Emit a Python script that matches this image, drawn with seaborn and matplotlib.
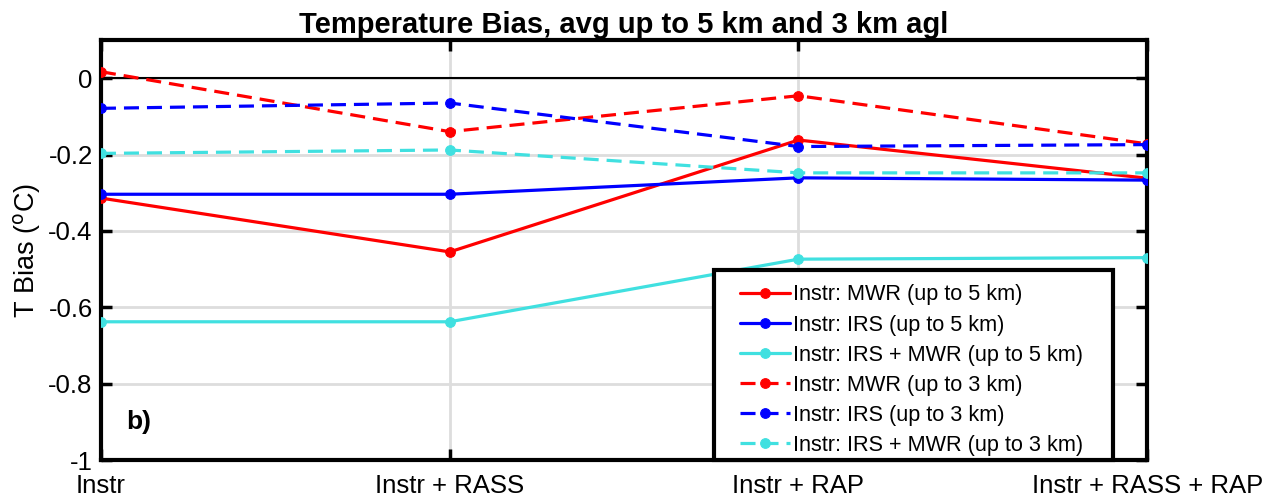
import numpy as np
import pandas as pd
import matplotlib
matplotlib.use("Agg")
import matplotlib.pyplot as plt
from matplotlib.patches import Rectangle
import seaborn as sns

# configurations along the x axis
configs = ["Instr", "Instr + RASS", "Instr + RAP", "Instr + RASS + RAP"]

# temperature bias (degC)
mwr_5km = [-0.314, -0.455, -0.162, -0.262]
irs_5km = [-0.304, -0.304, -0.261, -0.267]
irs_mwr_5km = [-0.638, -0.638, -0.474, -0.470]
mwr_3km = [0.017, -0.140, -0.046, -0.172]
irs_3km = [-0.079, -0.065, -0.179, -0.174]
irs_mwr_3km = [-0.197, -0.188, -0.248, -0.248]

dashed = (0, (4.7, 2.5))
series = [
    ("Instr: MWR (up to 5 km)", mwr_5km, "red", "-"),
    ("Instr: IRS (up to 5 km)", irs_5km, "blue", "-"),
    ("Instr: IRS + MWR (up to 5 km)", irs_mwr_5km, "#40E0E0", "-"),
    ("Instr: MWR (up to 3 km)", mwr_3km, "red", dashed),
    ("Instr: IRS (up to 3 km)", irs_3km, "blue", dashed),
    ("Instr: IRS + MWR (up to 3 km)", irs_mwr_3km, "#40E0E0", dashed),
]

sns.set_style("white")
plt.rcParams["font.family"] = ["Liberation Sans", "DejaVu Sans"]
plt.rcParams.update({"text.color": "black", "axes.labelcolor": "black",
                     "xtick.color": "black", "ytick.color": "black"})

fig = plt.figure(figsize=(12.62, 5), dpi=100)
ax = fig.add_axes([0.080, 0.08, 0.829, 0.84])

x = np.arange(len(configs))
ax.axhline(0, color="black", lw=1.5, zorder=1)

for label, vals, color, ls in series:
    df = pd.DataFrame({"x": x, "bias": vals})
    sns.lineplot(data=df, x="x", y="bias", ax=ax, color=color, linestyle=ls,
                 lw=2.3, marker="o", markersize=7, markeredgecolor=color,
                 label=label, zorder=3)

ax.set_xlim(0, 3)
ax.set_ylim(-1, 0.1)
ax.set_xticks(x)
ax.set_xticklabels(configs)
ax.set_yticks([0, -0.2, -0.4, -0.6, -0.8, -1])
ax.set_yticklabels(["0", "-0.2", "-0.4", "-0.6", "-0.8", "-1"])
ax.grid(True, color="#dddddd", lw=2)
ax.set_axisbelow(True)
ax.tick_params(direction="in", length=8, width=2.5, labelsize=18.5,
               top=True, right=True, bottom=True, left=True)
ax.tick_params(axis="x", pad=10)
ax.tick_params(axis="y", pad=6)
for sp in ax.spines.values():
    sp.set_linewidth(3)
    sp.set_color("black")

ax.set_xlabel("")
ax.set_ylabel("T Bias ($^{\\rm o}$C)", fontsize=19.5, labelpad=4)
ax.set_title("Temperature Bias, avg up to 5 km and 3 km agl",
             fontsize=21, fontweight="bold", pad=5)
ax.text(0.024, 0.09, "b)", transform=ax.transAxes, fontsize=19,
        fontweight="bold", va="center")

# legend box drawn separately to get the wide side padding
box = Rectangle((0.586, 0.0), 0.3815, 0.452, transform=ax.transAxes,
                facecolor="white", edgecolor="black", lw=3, zorder=4,
                clip_on=False)
ax.add_patch(box)
leg = ax.legend(loc="upper left", bbox_to_anchor=(0.611, 0.418), fontsize=15.6,
                frameon=False, handlelength=2.3, handletextpad=0.15,
                borderpad=0, labelspacing=0.42, numpoints=1, borderaxespad=0)
leg.set_zorder(5)

fig.savefig("out.png", dpi=100)
